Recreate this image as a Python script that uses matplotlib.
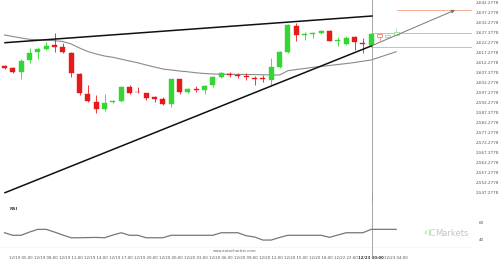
import numpy as np
import matplotlib
matplotlib.use("Agg")
from matplotlib import pyplot as plt

# hourly candles, index 0..44 real, 45..47 forecast (hollow)
opens = [2610.28, 2609.13, 2607.43, 2613.28, 2617.13, 2618.93, 2620.78, 2619.78, 2616.93, 2606.28,
         2596.28, 2592.43, 2588.63, 2592.13, 2592.93, 2599.63, 2597.43, 2596.63, 2594.63, 2593.63,
         2591.13, 2603.63, 2597.43, 2598.63, 2598.28, 2600.63, 2604.93, 2606.43, 2605.93, 2605.28,
         2604.43, 2604.43, 2603.28, 2609.93, 2617.43, 2630.28, 2625.78, 2626.28, 2626.63, 2627.93,
         2622.78, 2621.28, 2624.63, 2621.93, 2620.78, 2626.28, 2624.63, 2625.78]
closes = [2609.53, 2607.43, 2612.93, 2616.63, 2618.78, 2620.43, 2619.93, 2617.13, 2606.63, 2596.63,
          2592.63, 2588.78, 2591.93, 2592.78, 2599.63, 2596.93, 2597.13, 2594.43, 2593.78, 2591.13,
          2603.63, 2597.43, 2598.63, 2598.13, 2600.28, 2604.78, 2606.63, 2605.93, 2605.28, 2604.78,
          2603.93, 2603.93, 2609.63, 2617.13, 2630.78, 2625.78, 2626.28, 2626.63, 2627.93, 2622.93,
          2623.28, 2624.13, 2622.13, 2621.28, 2626.28, 2624.93, 2625.78, 2627.43]
highs = [2610.78, 2609.78, 2613.63, 2619.28, 2619.93, 2622.43, 2626.93, 2621.93, 2617.28, 2606.78,
         2600.78, 2595.78, 2596.28, 2593.28, 2600.28, 2600.78, 2599.63, 2596.78, 2595.43, 2594.93,
         2603.78, 2603.78, 2599.13, 2600.43, 2600.78, 2605.28, 2607.43, 2607.43, 2606.63, 2606.63,
         2605.28, 2605.78, 2614.13, 2617.93, 2631.28, 2631.63, 2627.13, 2627.43, 2628.43, 2628.28,
         2624.63, 2625.28, 2625.28, 2624.13, 2626.63, 2626.63, 2626.28, 2629.13]
lows = [2608.78, 2606.78, 2603.63, 2611.78, 2613.63, 2618.28, 2617.43, 2616.63, 2604.63, 2595.78,
        2592.28, 2586.63, 2587.78, 2591.78, 2592.28, 2596.13, 2596.63, 2593.28, 2592.13, 2590.63,
        2589.63, 2596.13, 2596.63, 2597.43, 2596.13, 2599.93, 2604.43, 2604.93, 2604.13, 2603.28,
        2600.78, 2602.43, 2600.78, 2609.13, 2616.63, 2622.93, 2623.28, 2624.13, 2626.28, 2622.63,
        2620.28, 2620.78, 2618.28, 2616.63, 2619.93, 2622.93, 2624.28, 2625.93]
n_real = 45

ma = [2625.78, 2625.03, 2624.28, 2623.63, 2623.38, 2623.18, 2622.93, 2622.53, 2621.28, 2619.28,
      2617.53, 2616.28, 2615.28, 2614.63, 2613.68, 2612.78, 2611.88, 2610.78, 2609.78, 2608.78,
      2608.28, 2607.78, 2607.38, 2606.88, 2606.53, 2606.28, 2606.18, 2606.13, 2606.08, 2606.03,
      2605.98, 2605.88, 2605.78, 2605.78, 2607.93, 2608.53, 2609.03, 2609.63, 2610.03, 2610.53,
      2611.03, 2611.48, 2612.03, 2612.68, 2613.28, 2614.68, 2616.03, 2617.43]

rsi = [47.4, 44.4, 44.4, 48.2, 51.4, 51.4, 48.2, 44.7, 41.5, 41.5,
       41.7, 41.9, 41.5, 44.7, 47.4, 44.4, 44.4, 41.5, 41.5, 41.5,
       44.4, 44.4, 44.4, 44.4, 44.4, 44.4, 47.4, 47.4, 47.4, 43.9,
       42.4, 38.8, 38.8, 41.8, 44.4, 44.4, 44.4, 44.4, 44.4, 42.0,
       44.7, 47.4, 47.4, 47.4, 51.4, 51.4, 51.4, 51.4]

# trend lines (index, price)
upper_line = ([0.06, 44.1], [2621.93, 2635.28])
lower_line = ([0.06, 44.08], [2546.93, 2620.43])
lower_proj = ([44.08, 54.08], [2620.43, 2638.28])

# forecast levels
levels = [2638.28, 2626.63, 2619.63]
level_start = [47.1, 44.2, 44.2]

price_ticks = [2547.2778 + 5 * k for k in range(20)]
rsi_ticks = [40, 60]

tick_pos = [2 + 3 * k for k in range(16)]
tick_labels = ["12/19 05:00", "12/19 08:00", "12/19 11:00", "12/19 14:00", "12/19 17:00",
               "12/19 20:00", "12/20 00:00", "12/20 03:00", "12/20 06:00", "12/20 09:00",
               "12/20 12:00", "12/20 15:00", "12/20 18:00", "12/22 22:00", "12/23 00:00",
               "12/23 04:00"]
now_index = 44.1

GREEN = "#33d633"
RED = "#e8191b"


def draw_candles(ax):
    idx = np.arange(len(opens))
    for i in idx:
        o, c, h, l = opens[i], closes[i], highs[i], lows[i]
        up = c >= o
        if i < n_real:
            col = GREEN if up else RED
            ax.vlines(i, l, h, color=col, lw=0.6, zorder=3)
            ax.bar(i, max(abs(c - o), 0.35), bottom=min(o, c), width=0.6,
                   color=col, edgecolor=col, lw=0.3, zorder=4)
        else:
            col = "#8fe08f" if up else "#f08080"
            ax.vlines(i, l, h, color=col, lw=0.5, zorder=3)
            ax.bar(i, max(abs(c - o), 0.35), bottom=min(o, c), width=0.6,
                   color="white", edgecolor=col, lw=0.6, zorder=4)


def main():
    fig = plt.figure(figsize=(5, 2.61), dpi=100)
    W, H = 500.0, 261.0
    left, right = 0.0, 472.0
    ax = fig.add_axes([left / W, 1 - 200 / H, (right - left) / W, 200 / H])
    rax = fig.add_axes([left / W, 1 - 246 / H, (right - left) / W, 43 / H], sharex=ax)

    xlim = (-0.54, 56.1)

    draw_candles(ax)
    ax.plot(np.arange(len(ma)), ma, color="#8a8a8a", lw=0.8, zorder=2)
    ax.plot(*upper_line, color="#111111", lw=1.1, zorder=5)
    ax.plot(*lower_line, color="#111111", lw=1.1, zorder=5)
    ax.annotate("", xy=(lower_proj[0][1], lower_proj[1][1]),
                xytext=(lower_proj[0][0], lower_proj[1][0]),
                arrowprops=dict(arrowstyle="-|>", color="#777777", lw=0.7,
                                mutation_scale=5, shrinkA=0, shrinkB=0), zorder=5)
    for lv, st in zip(levels, level_start):
        ax.plot([st, xlim[1]], [lv, lv], color="#f4a582", lw=0.6, zorder=1)

    ax.axvline(now_index, color="#999999", lw=0.6, ymin=-0.05, ymax=1, clip_on=False)
    rax.axvline(now_index, color="#999999", lw=0.6, ymin=-0.25, ymax=1.2, clip_on=False)

    ax.set_xlim(*xlim)
    ax.set_ylim(2543.28, 2643.28)
    ax.yaxis.tick_right()
    ax.set_yticks(price_ticks)
    ax.set_yticklabels(["{:,.4f}".format(v) for v in price_ticks])
    ax.tick_params(axis="y", length=0, pad=3, labelsize=3, labelcolor="#555555")
    ax.tick_params(axis="x", bottom=False, labelbottom=False)
    for s in ax.spines.values():
        s.set_visible(False)

    rax.plot(np.arange(len(rsi)), rsi, color="#777777", lw=0.9)
    rax.set_ylim(31.8, 82.4)
    rax.yaxis.tick_right()
    rax.set_yticks(rsi_ticks)
    rax.set_yticklabels([str(v) for v in rsi_ticks])
    rax.tick_params(axis="y", length=0, pad=5, labelsize=3, labelcolor="#555555")
    rax.set_xticks(tick_pos)
    rax.set_xticklabels(tick_labels)
    rax.tick_params(axis="x", length=0, pad=7, labelsize=2.8, labelcolor="#555555")
    for lab in rax.get_xticklabels():
        if lab.get_text() == "12/23 00:00":
            lab.set_fontweight("bold")
            lab.set_color("#333333")
    for s in rax.spines.values():
        s.set_visible(False)
    rax.text(0.02, 0.86, "RSI", transform=rax.transAxes, fontsize=3.2,
             fontweight="bold", color="#444444", va="center")

    fig.add_artist(plt.Line2D([0, 472 / W], [1 - 247 / H, 1 - 247 / H],
                              color="#e6e6e6", lw=0.5, ls=(0, (2, 2))))
    fig.text(213 / W, 1 - 250.5 / H, "www.autochartist.com", fontsize=2.8,
             color="#666666", va="center")
    fig.text(423 / W, 1 - 233 / H, ".ıl", fontsize=3.5, color="#9ccf9c", va="center")
    fig.text(427.5 / W, 1 - 233 / H, "IC", fontsize=6, color="#a6dca6", va="center")
    fig.text(435.5 / W, 1 - 233 / H, "Markets", fontsize=6, color="#c4c4c4", va="center")

    fig.savefig("out.png", dpi=100)
    plt.close(fig)


if __name__ == "__main__":
    main()
